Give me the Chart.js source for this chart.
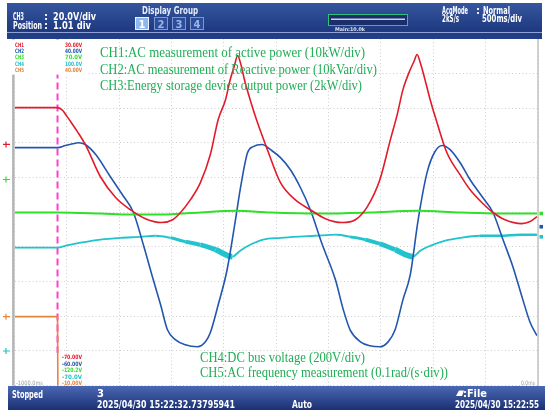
<!DOCTYPE html>
<html>
<head>
<meta charset="utf-8">
<script src="https://cdn.jsdelivr.net/npm/chart.js@4.4.1/dist/chart.umd.min.js"></script>
<style>
html, body { margin: 0; padding: 0; background: #fff; }
#wrap { width: 550px; height: 417px; position: relative; }
</style>
</head>
<body>
<div id="wrap"><canvas id="scope" width="550" height="417"></canvas></div>
<script>
// screen is 10 x 10 divisions, x = time (div, 500ms/div), y = div from bottom
const ch1X = [0, 0.82, 0.92, 0.99, 1.07, 1.20, 1.35, 1.64, 1.93, 2.21, 2.50, 2.81, 3.02, 3.17, 3.36, 3.55, 3.74, 3.89, 4.03, 4.12, 4.20, 4.26, 4.33, 4.39, 4.50, 4.64, 4.83, 5.08, 5.36, 5.65, 5.94, 6.26, 6.51, 6.74, 6.98, 7.18, 7.31, 7.42, 7.56, 7.63, 7.69, 7.75, 7.84, 7.94, 8.07, 8.26, 8.51, 8.70, 8.93, 9.14, 9.37, 9.69, 9.85, 9.98]
const ch1Y = [8.01, 8.01, 7.93, 7.78, 7.61, 7.32, 6.95, 6.02, 5.42, 5.07, 4.81, 4.70, 4.78, 4.99, 5.36, 5.85, 6.66, 7.67, 8.24, 8.82, 9.22, 9.51, 9.22, 8.82, 8.24, 7.58, 6.80, 5.85, 5.36, 5.07, 4.81, 4.70, 4.78, 5.16, 5.94, 7.09, 7.81, 8.53, 9.11, 9.34, 9.54, 9.31, 8.82, 8.24, 7.58, 6.71, 6.08, 5.65, 5.27, 4.99, 4.78, 4.67, 4.73, 4.87]

const ch2X = [0, 0.82, 0.97, 1.11, 1.22, 1.35, 1.55, 1.83, 2.06, 2.27, 2.46, 2.65, 2.79, 2.92, 3.07, 3.26, 3.49, 3.65, 3.74, 3.89, 4.06, 4.22, 4.31, 4.45, 4.56, 4.73, 4.89, 5.08, 5.27, 5.46, 5.65, 5.88, 6.13, 6.28, 6.41, 6.60, 6.79, 6.98, 7.14, 7.27, 7.42, 7.56, 7.71, 7.88, 8.03, 8.17, 8.32, 8.51, 8.70, 8.93, 9.14, 9.33, 9.52, 9.71, 9.85, 9.98]
const ch2Y = [6.86, 6.86, 6.92, 6.97, 7.00, 6.95, 6.66, 6.02, 5.50, 4.99, 4.06, 3.05, 2.33, 1.61, 1.33, 1.18, 1.12, 1.27, 1.53, 2.33, 3.34, 4.78, 5.65, 6.71, 6.89, 6.95, 6.80, 6.57, 6.22, 5.71, 5.07, 4.06, 3.05, 2.19, 1.61, 1.27, 1.15, 1.12, 1.27, 1.61, 2.48, 3.20, 4.78, 6.14, 6.74, 6.92, 6.80, 6.43, 5.94, 5.45, 4.99, 4.21, 3.43, 2.48, 1.82, 1.44]

const ch3X = [0, 0.82, 1.64, 2.21, 2.79, 3.55, 4.22, 4.89, 5.84, 6.79, 7.69, 8.51, 9.27, 9.98]
const ch3Y = [4.99, 4.99, 4.96, 4.93, 4.93, 4.99, 5.04, 4.99, 4.96, 4.99, 5.04, 4.99, 4.96, 4.96]

const ch4X = [0, 0.82, 0.97, 1.26, 1.64, 2.02, 2.40, 2.69, 2.98, 3.26, 3.55, 3.84, 4.16, 4.31, 4.50, 4.75, 5.08, 5.32, 5.74, 6.16, 6.41, 6.70, 6.98, 7.27, 7.61, 7.75, 7.94, 8.23, 8.51, 8.89, 9.27, 9.66, 9.98]
const ch4Y = [3.98, 3.98, 4.03, 4.12, 4.21, 4.26, 4.29, 4.32, 4.26, 4.15, 4.06, 3.92, 3.72, 3.89, 4.06, 4.21, 4.26, 4.29, 4.32, 4.35, 4.29, 4.21, 4.09, 3.92, 3.72, 3.89, 4.03, 4.18, 4.26, 4.32, 4.32, 4.35, 4.35]

const ch5X = [0, 0.82, 0.83, 10]
const ch5Y = [1.99, 1.99, -1, -1]

const triggerX = [0.82, 0.82]
const triggerY = [10, 0.95]

const channelNames = ['CH1', 'CH2', 'CH3', 'CH4', 'CH5']
const channelColors = ['#e21b2b', '#2356ae', '#2fe02a', '#22c3cc', '#e8843a']
const scaleTop = ['30.00V', '40.00V', '70.0V', '100.0V', '40.00V']
const scaleBottom = ['-70.00V', '-60.00V', '-120.2V', '-70.0V', '-10.00V']
const groundDiv = [6.95, null, 5.94, 1.0, 1.99]
const rightMarkDiv = [null, 4.58, 4.96, 4.29, null]

const notesTop = [
    'CH1:AC measurement of active power (10kW/div)',
    'CH2:AC measurement of Reactive power (10kVar/div)',
    'CH3:Energy storage device output power (2kW/div)'
]
const notesBottom = [
    'CH4:DC bus voltage (200V/div)',
    'CH5:AC frequency measurement (0.1rad/(s\u00b7div))'
]
const timeLeft = '-1000.0ms'
const timeRight = '0.0ms'

const pts = (xs, ys) => xs.map((x, i) => ({x, y: ys[i]}))

const UI = "bold 10px 'DejaVu Sans'"
const txt = (ctx, s, x, y, font, color, maxW, align) => {
    ctx.font = font
    ctx.fillStyle = color
    ctx.textAlign = align || 'left'
    ctx.textBaseline = 'alphabetic'
    if (maxW) ctx.fillText(s, x, y, maxW)
    else ctx.fillText(s, x, y)
}

// cyan trace gets fat where the ripple is
const noiseBands = [[2.6, 4.16], [6.1, 7.61]]
const cyanWidth = c => {
    const x = c.p0.parsed.x
    for (const [a, b] of noiseBands) {
        if (x >= a && x < b) return 1.8 + 5 * (x - a) / (b - a)
    }
    return x > 8.6 ? 2.6 : 1.8
}

const scopeFrame = {
    id: 'scopeFrame',
    beforeDraw(chart) {
        const ctx = chart.ctx
        ctx.save()
        ctx.fillStyle = '#fff'
        ctx.fillRect(0, 0, chart.width, chart.height)
        ctx.restore()
    },
    afterDraw(chart) {
        const ctx = chart.ctx
        const a = chart.chartArea
        const ys = chart.scales.y
        ctx.save()

        // frame edges
        ctx.fillStyle = '#b5b5b5'
        ctx.fillRect(a.left - 2.5, a.top, 2.5, a.bottom - a.top)
        ctx.fillRect(a.right - 0.6, a.top, 1.2, a.bottom - a.top)

        // channel scale box top-left
        ctx.fillStyle = '#fff'
        ctx.fillRect(a.left - 3, a.top + 1, 76, 35)
        channelNames.forEach((n, i) => {
            txt(ctx, n, 15, 47 + i * 6.2, "bold 6px 'DejaVu Sans'", channelColors[i], 9)
            txt(ctx, scaleTop[i], 65, 47 + i * 6.2, "bold 6px 'DejaVu Sans'", channelColors[i], 17)
            txt(ctx, scaleBottom[i], 62, 359 + i * 6.5, "bold 6px 'DejaVu Sans'", channelColors[i], 20)
        })
        txt(ctx, timeLeft, 16, 384.5, "6px 'DejaVu Sans'", '#9a9a9a', 27)
        txt(ctx, timeRight, 535, 384.5, "6px 'DejaVu Sans'", '#9a9a9a', 14, 'right')

        // ground markers left, level markers right
        groundDiv.forEach((g, i) => {
            if (g === null) return
            const py = ys.getPixelForValue(g)
            ctx.strokeStyle = channelColors[i]
            ctx.lineWidth = 1.2
            ctx.beginPath()
            ctx.moveTo(3, py); ctx.lineTo(10, py)
            ctx.moveTo(6, py - 3); ctx.lineTo(6, py + 3)
            ctx.stroke()
        })
        rightMarkDiv.forEach((g, i) => {
            if (g === null) return
            const py = ys.getPixelForValue(g)
            ctx.fillStyle = channelColors[i]
            ctx.fillRect(a.right + 1.5, py - 1.8, 3.5, 3.6)
        })

        // annotations
        const serif = "14.5px 'Liberation Serif'"
        const green = '#20ad55'
        const topW = [265, 277, 262]
        notesTop.forEach((s, i) => txt(ctx, s, 100, 57 + i * 16.5, serif, green, topW[i]))
        const botW = [165, 248]
        notesBottom.forEach((s, i) => txt(ctx, s, 200, 362 + i * 15, serif, green, botW[i]))

        // header bar
        let g = ctx.createLinearGradient(0, 3, 0, 39)
        g.addColorStop(0, '#35569f')
        g.addColorStop(0.75, '#1f3a80')
        g.addColorStop(1, '#233f88')
        ctx.fillStyle = g
        ctx.fillRect(7, 3, 535, 36)
        ctx.fillStyle = '#8ea4d6'
        ctx.fillRect(7, 32, 535, 1)

        txt(ctx, 'CH3', 13, 20, UI, '#fff', 11)
        txt(ctx, ':', 44, 20, UI, '#fff')
        txt(ctx, '20.0V/div', 53, 20, UI, '#fff', 43)
        txt(ctx, 'Position', 13, 28.5, UI, '#fff', 29)
        txt(ctx, ':', 44, 28.5, UI, '#fff')
        txt(ctx, '1.01 div', 53, 28.5, UI, '#fff', 38)

        txt(ctx, 'Display Group', 142, 14, UI, '#e8eefc', 56)
        const btnX = [135, 154, 172, 190]
        btnX.forEach((bx, i) => {
            ctx.fillStyle = i === 0 ? '#8fb6ee' : '#2b4d9c'
            ctx.fillRect(bx, 17, 14, 13)
            ctx.strokeStyle = i === 0 ? '#eef4ff' : '#7f97cf'
            ctx.lineWidth = 1
            ctx.strokeRect(bx + 0.5, 17.5, 13, 12)
            txt(ctx, String(i + 1), bx + 7, 27.5, UI, i === 0 ? '#ffffff' : '#9fb4e2', 0, 'center')
        })

        ctx.fillStyle = '#1a2f6a'
        ctx.fillRect(328, 14, 80, 12)
        ctx.strokeStyle = '#2fc07c'
        ctx.lineWidth = 1
        ctx.strokeRect(328.5, 14.5, 79, 11)
        ctx.fillStyle = '#c9d0e0'
        ctx.fillRect(331, 18.5, 74, 1.5)
        txt(ctx, 'Main:10.0k', 335, 30.5, "bold 5px 'DejaVu Sans'", '#dfe6f6', 30)

        txt(ctx, 'AcqMode', 442, 13.5, UI, '#fff', 26)
        txt(ctx, ':', 476, 13.5, UI, '#fff')
        txt(ctx, 'Normal', 483, 13.5, UI, '#fff', 27)
        txt(ctx, '2kS/s', 442, 22, UI, '#fff', 17)
        txt(ctx, '500ms/div', 482, 22, UI, '#fff', 40)

        // footer bar
        g = ctx.createLinearGradient(0, 386, 0, 410)
        g.addColorStop(0, '#4a68b4')
        g.addColorStop(1, '#1b3072')
        ctx.fillStyle = g
        ctx.fillRect(8, 386, 537, 24)
        txt(ctx, 'Stopped', 12, 398, UI, '#fff', 31)
        txt(ctx, '3', 97, 397, UI, '#fff')
        txt(ctx, '2025/04/30 15:22:32.73795941', 97, 407.5, UI, '#fff', 138)
        txt(ctx, 'Auto', 292, 407.5, UI, '#fff', 20)
        ctx.fillStyle = '#fff'
        ctx.beginPath()
        ctx.moveTo(456, 396); ctx.lineTo(459, 390.5); ctx.lineTo(464, 390.5); ctx.lineTo(462, 396)
        ctx.closePath(); ctx.fill()
        txt(ctx, ':File', 463, 397, UI, '#fff', 24)
        txt(ctx, '2025/04/30 15:22:55', 455, 407.5, UI, '#fff', 84)

        ctx.restore()
    }
}

const line = (label, xs, ys, color, width, extra) => Object.assign({
    label,
    data: pts(xs, ys),
    borderColor: color,
    backgroundColor: color,
    borderWidth: width,
    pointRadius: 0,
    fill: false,
    cubicInterpolationMode: 'monotone'
}, extra || {})

new Chart(document.getElementById('scope'), {
    type: 'line',
    data: {
        datasets: [
            line('CH1', ch1X, ch1Y, channelColors[0], 1.6),
            line('CH3', ch3X, ch3Y, channelColors[2], 2),
            line('CH2', ch2X, ch2Y, channelColors[1], 1.6),
            line('CH4', ch4X, ch4Y, channelColors[3], 1.8, {segment: {borderWidth: cyanWidth}}),
            line('CH5', ch5X, ch5Y, channelColors[4], 1.6, {cubicInterpolationMode: 'default', tension: 0}),
            line('Trigger', triggerX, triggerY, '#ff3fd2', 2, {borderDash: [7, 4], cubicInterpolationMode: 'default', tension: 0})
        ]
    },
    options: {
        responsive: false,
        animation: false,
        devicePixelRatio: 1,
        layout: {
            padding: {left: 14.6, right: 12, top: 38.6, bottom: 31.3}
        },
        scales: {
            x: {
                type: 'linear',
                min: 0,
                max: 10,
                ticks: {display: false, stepSize: 1},
                grid: {color: '#cdcdcd', lineWidth: 1, drawTicks: false},
                border: {display: false, dash: [1, 2.5]}
            },
            y: {
                type: 'linear',
                min: 0,
                max: 10,
                ticks: {display: false, stepSize: 1},
                grid: {color: '#cdcdcd', lineWidth: 1, drawTicks: false},
                border: {display: false, dash: [1, 2.5]}
            }
        },
        plugins: {
            legend: {display: false},
            tooltip: {enabled: false}
        }
    },
    plugins: [scopeFrame]
})
</script>
</body>
</html>
